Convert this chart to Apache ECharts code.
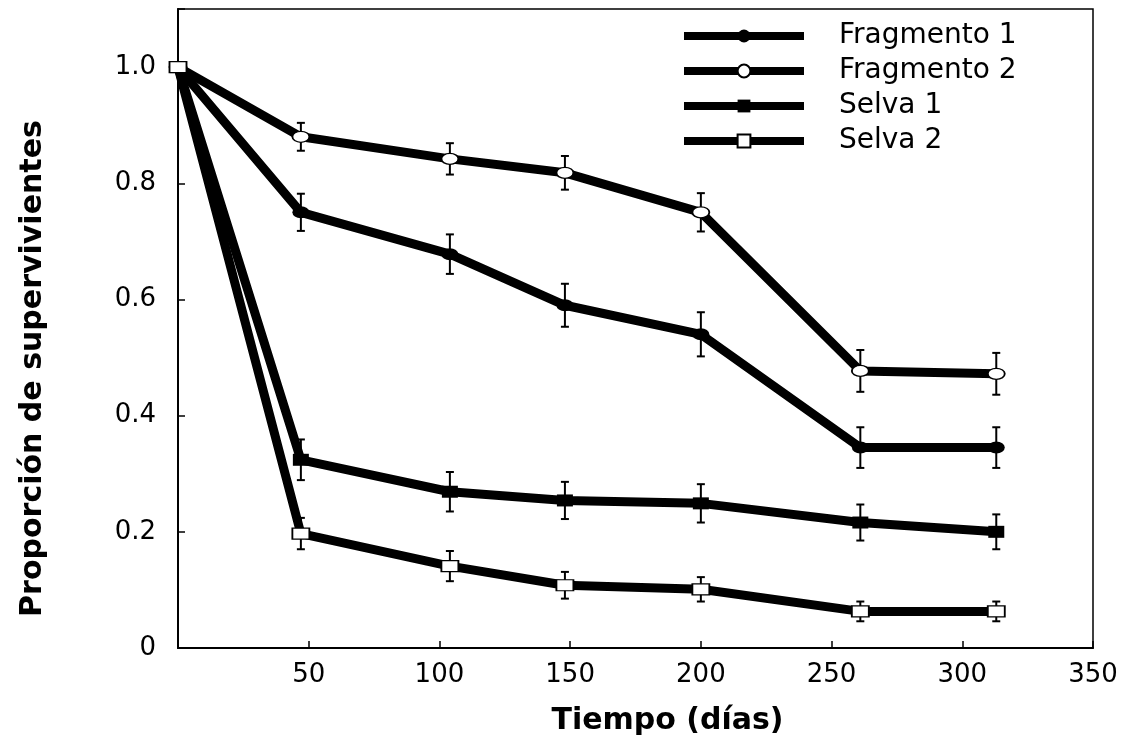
<!DOCTYPE html>
<html>
<head>
<meta charset="utf-8">
<script src="https://cdn.jsdelivr.net/npm/echarts@6/dist/echarts.min.js"></script>
<style>
  html, body { margin: 0; padding: 0; background: #fff; }
  #chart { width: 1123px; height: 756px; }
</style>
</head>
<body>
<div id="chart"></div>
<script>
// Survival over time (days) in forest fragments and continuous forest
const dias = [0, 47, 104, 148, 200, 261, 313];

const fragmento1    = [1.0, 0.750, 0.678, 0.590, 0.540, 0.345, 0.345];
const fragmento1Err = [0, 0.032, 0.034, 0.037, 0.038, 0.035, 0.035];

const fragmento2    = [1.0, 0.880, 0.842, 0.818, 0.750, 0.477, 0.472];
const fragmento2Err = [0, 0.024, 0.027, 0.029, 0.033, 0.036, 0.036];

const selva1    = [1.0, 0.324, 0.269, 0.254, 0.249, 0.216, 0.200];
const selva1Err = [0, 0.035, 0.034, 0.032, 0.033, 0.031, 0.030];

const selva2    = [1.0, 0.197, 0.141, 0.108, 0.101, 0.063, 0.063];
const selva2Err = [0, 0.027, 0.026, 0.023, 0.021, 0.017, 0.017];

const xTicks = [0, 50, 100, 150, 200, 250, 300, 350];
const yTicks = [0, 0.2, 0.4, 0.6, 0.8, 1.0];

const FONT = 'DejaVu Sans';
const ELLIPSE = 'path://M0,5A8,5,0,1,1,16,5A8,5,0,1,1,0,5Z';

function pairs(xs, ys) { return xs.map((x, i) => [x, ys[i]]); }
function errRows(xs, ys, es) { return xs.map((x, i) => [x, ys[i], es[i]]); }

function errorBarSeries(xs, ys, es) {
  return {
    type: 'custom',
    z: 1,
    silent: true,
    legendHoverLink: false,
    data: errRows(xs, ys, es),
    encode: { x: 0, y: [1] },
    renderItem: function (params, api) {
      const e = api.value(2);
      if (!e) return null;
      const x = api.value(0), y = api.value(1);
      const top = api.coord([x, y + e]);
      const bot = api.coord([x, y - e]);
      const cap = 4;
      const st = { stroke: '#000', lineWidth: 2 };
      return {
        type: 'group',
        children: [
          { type: 'line', shape: { x1: top[0], y1: top[1], x2: bot[0], y2: bot[1] }, style: st },
          { type: 'line', shape: { x1: top[0] - cap, y1: top[1], x2: top[0] + cap, y2: top[1] }, style: st },
          { type: 'line', shape: { x1: bot[0] - cap, y1: bot[1], x2: bot[0] + cap, y2: bot[1] }, style: st }
        ]
      };
    }
  };
}

function lineSeries(name, ys, symbol, size, fill) {
  return {
    name: name,
    type: 'line',
    data: pairs(dias, ys),
    showAllSymbol: true,
    symbol: symbol,
    symbolSize: size,
    lineStyle: { color: '#000', width: 9 },
    itemStyle: { color: fill, borderColor: '#000', borderWidth: fill === '#fff' ? 1.5 : 0 },
    emphasis: { disabled: true },
    z: 2
  };
}

const chart = echarts.init(document.getElementById('chart'), null, { renderer: 'canvas' });

chart.setOption({
  animation: false,
  backgroundColor: '#fff',
  textStyle: { fontFamily: FONT, color: '#000' },
  grid: {
    left: 178, right: 30, top: 9, bottom: 108,
    show: true, borderColor: '#000', borderWidth: 1.5, backgroundColor: 'transparent'
  },
  legend: {
    orient: 'vertical',
    left: 680,
    top: 22,
    padding: 0,
    itemWidth: 120,
    itemHeight: 16,
    itemGap: 7,
    lineStyle: { width: 8, color: '#000' },
    textStyle: { fontFamily: FONT, fontSize: 28, color: '#000', padding: [0, 0, 0, 30], lineHeight: 28 },
    data: ['Fragmento 1', 'Fragmento 2', 'Selva 1', 'Selva 2']
  },
  xAxis: {
    type: 'value',
    min: xTicks[0],
    max: xTicks[xTicks.length - 1],
    interval: 50,
    name: 'Tiempo (días)',
    nameLocation: 'middle',
    nameGap: 58,
    nameTextStyle: { fontFamily: FONT, fontSize: 30, fontWeight: 'bold', color: '#000', padding: [0, 0, 0, 64] },
    axisLine: { lineStyle: { color: '#000', width: 2 } },
    axisTick: { inside: true, length: 7, lineStyle: { color: '#000', width: 1.5 } },
    axisLabel: {
      fontFamily: FONT, fontSize: 26, color: '#000', margin: 14,
      formatter: v => (v === 0 ? '' : String(v))
    },
    splitLine: { show: false }
  },
  yAxis: {
    type: 'value',
    min: yTicks[0],
    max: 1.1,
    interval: 0.2,
    name: 'Proporción de supervivientes',
    nameLocation: 'middle',
    nameRotate: 90,
    nameGap: 130,
    nameTextStyle: { fontFamily: FONT, fontSize: 30, fontWeight: 'bold', color: '#000', padding: [0, 80, 0, 0] },
    axisLine: { lineStyle: { color: '#000', width: 2 } },
    axisTick: { inside: true, length: 7, lineStyle: { color: '#000', width: 1.5 } },
    axisLabel: {
      fontFamily: FONT, fontSize: 26, color: '#000', margin: 22,
      formatter: v => (v === 0 ? '0' : (v > 1.05 ? '' : v.toFixed(1)))
    },
    splitLine: { show: false }
  },
  series: [
    errorBarSeries(dias, fragmento1, fragmento1Err),
    errorBarSeries(dias, fragmento2, fragmento2Err),
    errorBarSeries(dias, selva1, selva1Err),
    errorBarSeries(dias, selva2, selva2Err),
    lineSeries('Fragmento 1', fragmento1, ELLIPSE, [17, 12], '#000'),
    lineSeries('Fragmento 2', fragmento2, ELLIPSE, [17, 11], '#fff'),
    lineSeries('Selva 1', selva1, 'rect', [16, 12], '#000'),
    lineSeries('Selva 2', selva2, 'rect', [17, 11], '#fff')
  ]
});
</script>
</body>
</html>
